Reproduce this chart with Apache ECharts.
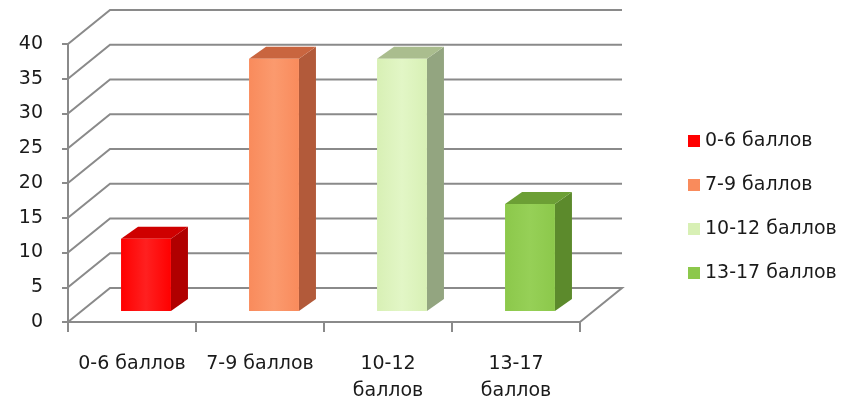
<!DOCTYPE html>
<html>
<head>
<meta charset="utf-8">
<script src="https://cdn.jsdelivr.net/npm/echarts@6/dist/echarts.min.js"></script>
<style>
  html, body { margin: 0; padding: 0; background: #ffffff; }
  #chart { width: 860px; height: 405px; }
</style>
</head>
<body>
<div id="chart"></div>
<script>
// Score groups and share of pupils in each group
const categories = ['0-6 баллов', '7-9 баллов', '10-12 баллов', '13-17 баллов'];
const values = [10.4, 36.3, 36.3, 15.4];
const yTicks = [0, 5, 10, 15, 20, 25, 30, 35, 40];

// Face / top / side shades for each column
const faceColors = ['#ff0000', '#f98b5c', '#d8f0b5', '#8cc84b'];
const faceLight  = ['#ff2020', '#fb9a6e', '#e2f6c6', '#96d057'];
const topColors  = ['#cf0000', '#c9653f', '#aabd8e', '#6c9f35'];
const sideColors = ['#b00000', '#b25a3a', '#93a580', '#5c8a2c'];

// Pseudo-3D offsets (pixels)
const WALL_DEPTH = [42, -34];
const BAR_OFFSET = [14, -11];
const BAR_DEPTH  = [17, -12];
const GRID_COLOR = '#8a8a8a';
const TEXT_COLOR = '#1a1a1a';
const FONT = 'DejaVu Sans';

// Back wall, side wall and floor lines, one polyline per value tick
function renderWall(params, api) {
  const v = api.value(1);
  const cs = params.coordSys;
  const y = api.coord([0, v])[1];
  const x0 = cs.x, x1 = cs.x + cs.width;
  const pts = [[x0, y], [x0 + WALL_DEPTH[0], y + WALL_DEPTH[1]], [x1 + WALL_DEPTH[0], y + WALL_DEPTH[1]]];
  if (v === 0) pts.push([x1, y]);
  return {
    type: 'polyline',
    shape: { points: pts },
    style: { stroke: GRID_COLOR, lineWidth: 2, fill: null }
  };
}

// A box-shaped column: front face, top face and right side face
function makeColumnRenderer(i) {
  return function (params, api) {
    const c = api.value(0), v = api.value(1);
    const base = api.coord([c, 0]);
    const top = api.coord([c, v]);
    const band = api.size([1, 0])[0];
    const w = band * 0.39;
    const xl = base[0] - w / 2 + BAR_OFFSET[0];
    const xr = xl + w;
    const yb = base[1] + BAR_OFFSET[1];
    const yt = top[1] + BAR_OFFSET[1];
    const dx = BAR_DEPTH[0], dy = BAR_DEPTH[1];
    const face = new echarts.graphic.LinearGradient(0, 0, 1, 0, [
      { offset: 0, color: faceColors[i] },
      { offset: 0.5, color: faceLight[i] },
      { offset: 1, color: faceColors[i] }
    ]);
    return {
      type: 'group',
      children: [
        { type: 'polygon', shape: { points: [[xr, yt], [xr + dx, yt + dy], [xr + dx, yb + dy], [xr, yb]] },
          style: { fill: sideColors[i] } },
        { type: 'polygon', shape: { points: [[xl, yt], [xr, yt], [xr + dx, yt + dy], [xl + dx, yt + dy]] },
          style: { fill: topColors[i] } },
        { type: 'rect', shape: { x: xl, y: yt, width: w, height: yb - yt },
          style: { fill: face } }
      ]
    };
  };
}

const series = [{
  type: 'custom',
  name: 'walls',
  renderItem: renderWall,
  data: yTicks.map(v => [0, v]),
  encode: { x: 0, y: 1 },
  silent: true,
  z: 1
}];
categories.forEach((name, i) => {
  series.push({
    type: 'custom',
    name: name,
    renderItem: makeColumnRenderer(i),
    data: [[i, values[i]]],
    encode: { x: 0, y: 1 },
    itemStyle: { color: faceColors[i] },
    z: 3
  });
});

const chart = echarts.init(document.getElementById('chart'), null, { renderer: 'canvas' });
chart.setOption({
  animation: false,
  backgroundColor: '#ffffff',
  grid: { left: 68, top: 44, width: 512, height: 278 },
  xAxis: {
    type: 'category',
    data: categories,
    axisLine: { lineStyle: { color: GRID_COLOR, width: 2 } },
    axisTick: { show: true, length: 10, lineStyle: { color: GRID_COLOR, width: 2 } },
    axisLabel: {
      margin: 29,
      color: TEXT_COLOR,
      fontFamily: FONT,
      fontSize: 19,
      lineHeight: 27,
      interval: 0,
      formatter: name => name.length > 10 ? name.replace(' ', '\n') : name
    },
    splitLine: { show: false }
  },
  yAxis: {
    type: 'value',
    min: 0,
    max: 40,
    interval: 5,
    axisLine: { show: true, lineStyle: { color: GRID_COLOR, width: 2 } },
    axisTick: { show: true, length: 6, lineStyle: { color: GRID_COLOR, width: 2 } },
    axisLabel: { margin: 25, color: TEXT_COLOR, fontFamily: FONT, fontSize: 19 },
    splitLine: { show: false }
  },
  legend: {
    orient: 'vertical',
    left: 683,
    top: 126,
    itemWidth: 12,
    itemHeight: 12,
    itemGap: 24,
    icon: 'rect',
    data: categories,
    textStyle: { color: TEXT_COLOR, fontFamily: FONT, fontSize: 19, lineHeight: 20 }
  },
  series: series
});
</script>
</body>
</html>
